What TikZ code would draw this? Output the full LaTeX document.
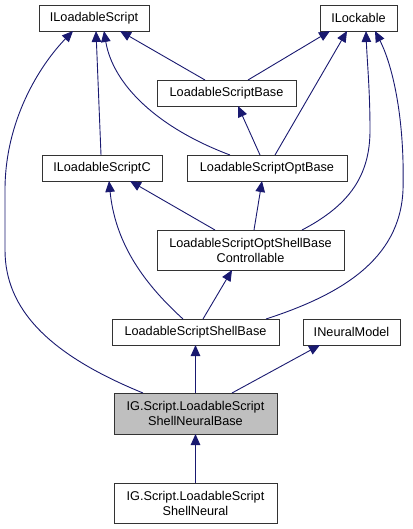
\documentclass[tikz,border=0pt]{standalone}
\usepackage{fontspec}
\setmainfont{Liberation Sans}
\usetikzlibrary{positioning, arrows.meta}
\definecolor{edgeblue}{HTML}{191970}

\begin{document}
\begin{tikzpicture}[x=1pt, y=-1pt,
  cls/.style={draw=black!80, line width=0.9pt, fill=white, inner sep=0pt, outer sep=0pt, minimum height=26pt, align=center, font=\fontsize{12.7}{15}\selectfont},
  inh/.style={draw=edgeblue, line width=0.9pt, -{Triangle[length=11pt, width=9.5pt]}}]
  \useasboundingbox (0,0) rectangle (412,529);
  \node[cls, minimum width=110pt] (1) at (94,18) {ILoadableScript};
  \node[cls, minimum width=77pt] (2) at (358.5,18) {ILockable};
  \node[cls, minimum width=139pt] (3) at (226.5,93) {LoadableScriptBase};
  \node[cls, minimum width=120pt] (4) at (102,168) {ILoadableScriptC};
  \node[cls, minimum width=160pt] (5) at (267,168) {LoadableScriptOptBase};
  \node[cls, minimum width=187pt, minimum height=40pt] (6) at (250.5,250) {LoadableScriptOptShellBase\\Controllable};
  \node[cls, minimum width=167pt] (7) at (195.5,332) {LoadableScriptShellBase};
  \node[cls, minimum width=97pt] (8) [right=24pt of 7] {INeuralModel};
  \node[cls, minimum width=163pt, minimum height=41pt, fill=black!25] (9) at (195.5,413.5) {IG.Script.LoadableScript\\ShellNeuralBase};
  \node[cls, minimum width=163pt, minimum height=40pt] (10) [below=49pt of 9] {IG.Script.LoadableScript\\ShellNeural};
  \draw[inh] ([xshift=-52.5pt]9.north) .. controls (50,355) and (5,310) .. (5,250) -- (5,190) .. controls (5,120) and (40,65) .. ([xshift=-21pt]1.south);
  \draw[inh] ([xshift=-1pt]4.north) -- ([xshift=2pt]1.south);
  \draw[inh] ([xshift=-37pt]5.north) .. controls (158,128) and (113,85) .. ([xshift=10pt]1.south);
  \draw[inh] ([xshift=-21.5pt]3.north) -- ([xshift=26pt]1.south);
  \draw[inh] ([xshift=21.5pt]3.north) -- ([xshift=-28.5pt]2.south);
  \draw[inh] ([xshift=-7pt]5.north) -- ([xshift=11.5pt]3.south);
  \draw[inh] ([xshift=8pt]5.north) -- ([xshift=-11.5pt]2.south);
  \draw[inh] ([xshift=51.5pt]6.north) .. controls (350,205) and (370,175) .. (370,130) .. controls (370,90) and (367,60) .. ([xshift=7.5pt]2.south);
  \draw[inh] ([xshift=70.5pt]7.north) .. controls (340,295) and (400,260) .. (403,190) .. controls (405,110) and (390,60) .. ([xshift=16.5pt]2.south);
  \draw[inh] ([xshift=-35.5pt]6.north) -- ([xshift=28pt]4.south);
  \draw[inh] ([xshift=3.5pt]6.north) -- ([xshift=-5pt]5.south);
  \draw[inh] ([xshift=-12.5pt]7.north) .. controls (140,280) and (115,240) .. ([xshift=7pt]4.south);
  \draw[inh] ([xshift=7.5pt]7.north) -- ([xshift=-18.5pt]6.south);
  \draw[inh] (9.north) -- (7.south);
  \draw[inh] ([xshift=36.5pt]9.north) -- ([xshift=-31.5pt]8.south);
  \draw[inh] (10.north) -- (9.south);
\end{tikzpicture}
\end{document}
